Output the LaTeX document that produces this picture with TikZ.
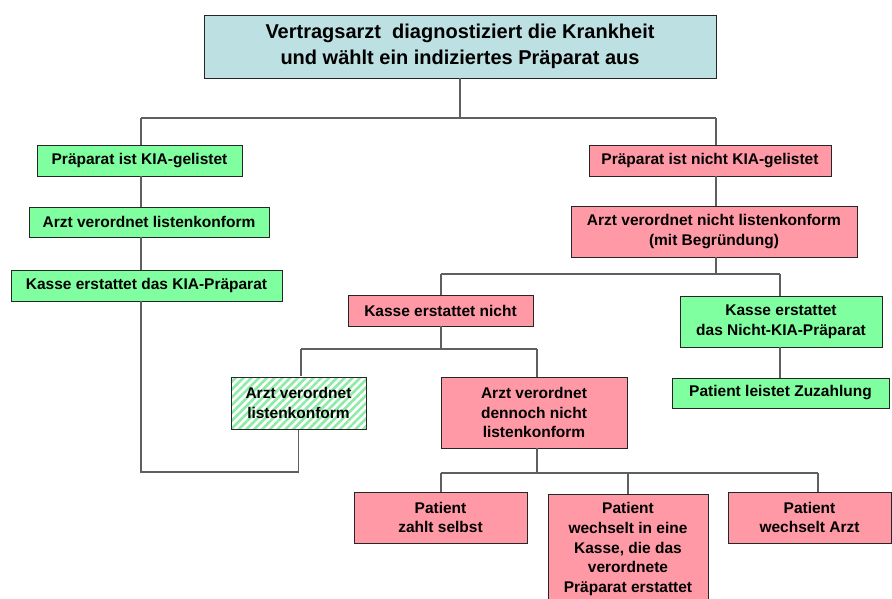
\documentclass[tikz,border=0pt]{standalone}
\usepackage{fontspec}
\setmainfont{Liberation Sans}
\usetikzlibrary{patterns.meta}
\definecolor{gfill}{RGB}{128,255,160}
\definecolor{pfill}{RGB}{255,153,166}
\definecolor{cfill}{RGB}{189,224,227}
\definecolor{hatchc}{RGB}{140,235,165}
\definecolor{conn}{RGB}{95,95,95}
\tikzset{
  box/.style={draw=black!85, line width=0.9pt, inner sep=0pt, align=center,
    font=\bfseries\fontsize{15.5}{19.8}\selectfont, text=black},
  gbox/.style={box, fill=gfill},
  pbox/.style={box, fill=pfill},
  hbox/.style={box, pattern={Lines[angle=45,distance=5.5pt,line width=2.6pt]}, pattern color=hatchc},
  wire/.style={draw=conn, line width=1.1pt}
}
\begin{document}
\begin{tikzpicture}[x=1pt,y=-1pt]
\clip (0,0) rectangle (892,598);
\fill[white] (0,0) rectangle (892,598);
% nodes
\node[box, fill=cfill, minimum width=512pt, minimum height=63pt,
  font=\bfseries\fontsize{20}{25.5}\selectfont] (top) at (460,46.5)
  {Vertragsarzt\ \ diagnostiziert die Krankheit\\und wählt ein indiziertes Präparat aus};
\node[gbox, minimum width=205pt, minimum height=31pt] (g1) at (139.5,160.5) {Präparat ist KIA-gelistet};
\node[gbox, minimum width=240pt, minimum height=30pt] (g2) at (149,222) {Arzt verordnet listenkonform};
\node[gbox, minimum width=271pt, minimum height=31pt] (g3) at (146.5,285.5) {Kasse erstattet das KIA-Präparat};
\node[pbox, minimum width=242pt, minimum height=31pt] (p1) at (710,160.5) {Präparat ist nicht KIA-gelistet};
\node[pbox, minimum width=286pt, minimum height=51pt] (p2) at (714,231.5) {Arzt verordnet nicht listenkonform\\(mit Begründung)};
\node[pbox, minimum width=185pt, minimum height=31pt] (p3) at (440.5,310.5) {Kasse erstattet nicht};
\node[gbox, minimum width=202pt, minimum height=51pt] (g4) at (781,321.5) {Kasse erstattet\\das Nicht-KIA-Präparat};
\node[gbox, minimum width=217pt, minimum height=30pt] (g5) at (780.5,393) {Patient leistet Zuzahlung};
\node[hbox, minimum width=135pt, minimum height=52pt] (h) at (298.5,403) {Arzt verordnet\\listenkonform};
\node[pbox, minimum width=186pt, minimum height=71pt] (p4) at (534,412.5) {Arzt verordnet\\dennoch nicht\\listenkonform};
\node[pbox, minimum width=173pt, minimum height=51pt] (p5) at (440.5,517.5) {Patient\\zahlt selbst};
\node[pbox, minimum width=160pt, minimum height=110pt] (p6) at (628,549) {Patient\\wechselt in eine\\Kasse, die das\\verordnete\\Präparat erstattet};
\node[pbox, minimum width=163pt, minimum height=51pt] (p7) at (809.5,517.5) {Patient\\wechselt Arzt};
% coordinates
\coordinate (b0) at (460,118);
\coordinate (L) at (141,118);
\coordinate (R) at (716,118);
\coordinate (B1L) at (441,274);
\coordinate (B1R) at (780,274);
\coordinate (B2L) at (301,349);
\coordinate (B2R) at (537,349);
\coordinate (B3L) at (441,473);
\coordinate (B3M) at (628,473);
\coordinate (B3R) at (818,473);
\coordinate (loop) at (141,472);
% connectors
\draw[wire] (top.south) -- (b0);
\draw[wire] (L) -- (R);
\draw[wire] (L) -- (g1.north -| L);
\draw[wire] (g1.south -| L) -- (g2.north -| L);
\draw[wire] (g2.south -| L) -- (g3.north -| L);
\draw[wire] (g3.south -| L) -- (loop) -| (h.south);
\draw[wire] (R) -- (p1.north -| R);
\draw[wire] (p1.south -| R) -- (p2.north -| R);
\draw[wire] (p2.south -| R) -- (R |- B1L);
\draw[wire] (B1L) -- (B1R);
\draw[wire] (B1L) -- (p3.north -| B1L);
\draw[wire] (B1R) -- (g4.north -| B1R);
\draw[wire] (g4.south -| B1R) -- (g5.north -| B1R);
\draw[wire] (p3.south -| B1L) -- (B1L |- B2L);
\draw[wire] (B2L) -- (B2R);
\draw[wire] (B2L) -- (h.north -| B2L);
\draw[wire] (B2R) -- (p4.north -| B2R);
\draw[wire] (p4.south -| B2R) -- (B2R |- B3L);
\draw[wire] (B3L) -- (B3R);
\draw[wire] (B3L) -- (p5.north -| B3L);
\draw[wire] (B3M) -- (p6.north);
\draw[wire] (B3R) -- (p7.north -| B3R);
\end{tikzpicture}
\end{document}
